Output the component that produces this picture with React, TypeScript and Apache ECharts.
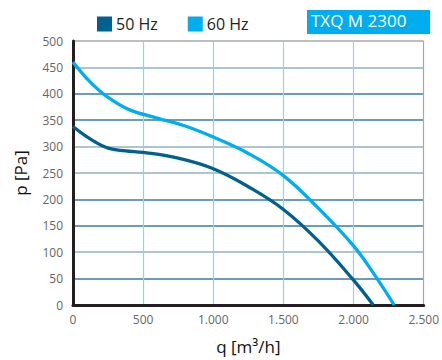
import React, { useEffect, useRef } from "react";
import * as echarts from "echarts";

const q50 = [0, 125, 250, 375, 500, 750, 1000, 1250, 1500, 1750, 2000, 2140];
const p50 = [338, 314, 297, 292, 289, 278, 258, 224, 181, 121, 47, 0];
const q60 = [0, 120, 240, 400, 600, 800, 1000, 1250, 1500, 1750, 2000, 2150, 2289];
const p60 = [460, 423, 395, 370, 354, 339, 318, 287, 245, 183, 112, 57, 0];
const legendNames = ["50 Hz", "60 Hz"];
const title = "TXQ M 2300";
const xTitle = "q [m³/h]";
const yTitle = "p [Pa]";

const C50 = "#00618e";
const C60 = "#00adef";

export default function App() {
  const ref = useRef<HTMLDivElement>(null);
  useEffect(() => {
    const chart = echarts.init(ref.current!, null, { renderer: "svg" });
    const font = "'Open Sans', sans-serif";
    chart.setOption({
      animation: false,
      grid: { left: 73, right: 13, top: 41, bottom: 54 },
      legend: {
        data: legendNames,
        left: 92,
        top: 11,
        itemWidth: 15,
        itemHeight: 15,
        itemGap: 30,
        icon: "rect",
        textStyle: { fontSize: 16, color: "#222", fontFamily: font, padding: [0, 0, 0, -1] },
      },
      graphic: [
        { type: "rect", left: 307, top: 10, shape: { width: 123, height: 24 }, style: { fill: C60 } },
        {
          type: "text",
          left: 311,
          top: 12,
          style: { text: title, fill: "#fff", fontSize: 17, fontFamily: font },
        },
      ],
      xAxis: {
        type: "value",
        min: 0,
        max: 2500,
        interval: 500,
        name: xTitle,
        nameLocation: "middle",
        nameGap: 33,
        nameTextStyle: { fontSize: 17, color: "#111", fontFamily: font },
        axisLine: { show: true, lineStyle: { color: "#231f20", width: 3 } },
        axisTick: { show: false },
        axisLabel: {
          color: "#666",
          fontSize: 12,
          fontFamily: font,
          margin: 8,
          formatter: (v: number) => (v >= 1000 ? Math.floor(v / 1000) + "." + String(v % 1000).padStart(3, "0") : String(v)),
        },
        splitLine: {
          show: true,
          lineStyle: { color: ["#8fd3f2", "#8fd3f2", "#8fd3f2", "#8fd3f2", "#8fd3f2", "#a8a8a8"], width: 1.2 },
        },
      },
      yAxis: {
        type: "value",
        min: 0,
        max: 500,
        interval: 50,
        name: yTitle,
        nameLocation: "middle",
        nameGap: 44,
        nameRotate: 90,
        nameTextStyle: { fontSize: 17, color: "#111", fontFamily: font },
        axisLine: { show: true, lineStyle: { color: "#231f20", width: 3 } },
        axisTick: { show: false },
        axisLabel: { color: "#666", fontSize: 12, fontFamily: font, margin: 10 },
        splitLine: {
          show: true,
          lineStyle: {
            color: ["#3a7d9c", "#3a7d9c", "#8fb2c2", "#3a7d9c", "#3a7d9c", "#8fb2c2", "#8fb2c2", "#3a7d9c", "#3a7d9c", "#8fb2c2", "#a8a8a8"],
            width: 1.5,
          },
        },
      },
      series: [
        {
          name: legendNames[0],
          type: "line",
          smooth: 0.4,
          showSymbol: false,
          data: q50.map((q, i) => [q, p50[i]]),
          itemStyle: { color: C50 },
          lineStyle: { color: C50, width: 3.3 },
        },
        {
          name: legendNames[1],
          type: "line",
          smooth: 0.4,
          showSymbol: false,
          data: q60.map((q, i) => [q, p60[i]]),
          itemStyle: { color: C60 },
          lineStyle: { color: C60, width: 3.3 },
        },
      ],
    });
    return () => chart.dispose();
  }, []);
  return <div ref={ref} style={{ width: 442, height: 360, position: "absolute", left: 0, top: 0 }} />;
}
